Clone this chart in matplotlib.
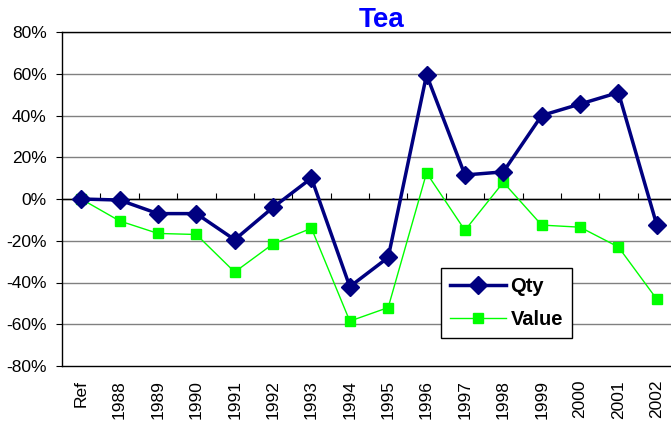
import matplotlib
matplotlib.use("Agg")
import matplotlib.pyplot as plt
from matplotlib.ticker import FuncFormatter

plt.rcParams['font.family'] = ['Liberation Sans', 'DejaVu Sans']

years = ['Ref', '1988', '1989', '1990', '1991', '1992', '1993', '1994', '1995',
         '1996', '1997', '1998', '1999', '2000', '2001', '2002']
qty = [0, -0.5, -7, -7, -19.5, -4, 10, -42, -28, 59.5, 11.5, 13, 40, 45.5, 51, -12.5]
value = [0, -10.5, -16.5, -17, -35, -21.5, -14, -58.5, -52, 12.5, -15, 8, -12.5, -13.5, -23, -48]

fig = plt.figure(figsize=(6.71, 4.21), dpi=100)
W, H = 671, 421
ax = fig.add_axes([62 / W, 1 - 366 / H, 614 / W, (366 - 32) / H])

x = list(range(len(years)))
ax.plot(x, qty, color='#000080', lw=2.5, marker='D', ms=9.5, label='Qty', zorder=4)
ax.plot(x, value, color='#00FF00', lw=1, marker='s', ms=7, label='Value', zorder=3)

ax.set_xlim(-0.5, len(years) - 0.5)
ax.set_ylim(-80, 80)
ax.set_yticks(range(-80, 81, 20))
ax.yaxis.set_major_formatter(FuncFormatter(lambda v, p: f'{int(v)}%'))
ax.tick_params(axis='y', direction='out', length=4, labelsize=12.5, colors='black', pad=7)
for v in range(-60, 81, 20):
    ax.axhline(v, color='#808080', lw=1, zorder=1)
ax.axhline(0, color='black', lw=1, zorder=2)

ax.set_xticks(x)
ax.set_xticklabels(years, rotation=90, fontsize=12.5)
ax.tick_params(axis='x', length=0, pad=10)

sec = ax.secondary_xaxis(0.5)
sec.set_xticks([i + 0.5 for i in x[:-1]])
sec.set_xticklabels([])
sec.tick_params(axis='x', direction='out', length=4)
sec.spines['bottom'].set_visible(False)

ax.spines['right'].set_visible(False)
for s in ['left', 'bottom', 'top']:
    ax.spines[s].set_color('black')
    ax.spines[s].set_linewidth(1)

fig.text(382 / W, 1 - 20 / H, 'Tea', color='#0000FF', fontsize=20,
         fontweight='bold', ha='center', va='center')

leg = ax.legend(loc='upper left', bbox_to_anchor=((441 - 62) / 614, (366 - 268) / 334),
                prop={'weight': 'bold', 'size': 14.5}, frameon=True, fancybox=False,
                edgecolor='black', framealpha=1, handlelength=2.8, borderpad=0.45,
                labelspacing=0.7, handletextpad=0.2, borderaxespad=0)
leg.get_frame().set_linewidth(1)

fig.savefig('out.png', dpi=100, facecolor='white')
